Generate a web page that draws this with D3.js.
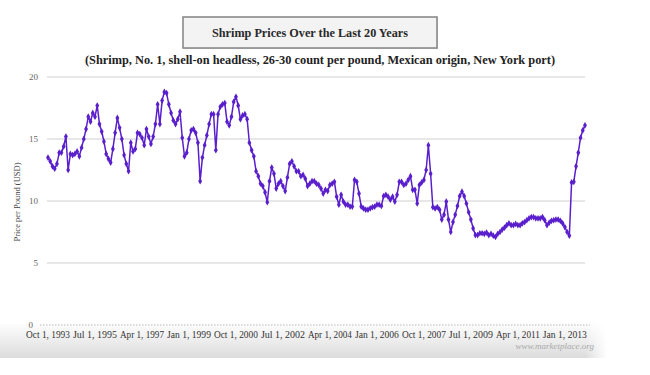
<!DOCTYPE html>
<html>
<head>
<meta charset="utf-8">
<script src="https://cdn.jsdelivr.net/npm/d3@7"></script>
<style>
  body { margin: 0; background: #fff; }
  svg { display: block; font-family: "Liberation Serif", "Times New Roman", serif; }
</style>
</head>
<body>
<div id="chart"></div>
<script>
// monthly prices, Oct 1993 .. Oct 2013 (USD per pound)
const prices = [
  13.5, 13.2, 12.8, 12.6, 13.0, 13.9, 13.9, 14.4, 15.2, 12.5,
  13.8, 13.7, 13.8, 14.0, 13.6, 14.3, 15.0, 15.8, 16.8, 16.4,
  17.1, 16.8, 17.7, 16.2, 15.6, 14.8, 13.8, 13.4, 13.1, 14.2,
  15.5, 16.7, 15.9, 15.0, 13.7, 13.0, 12.4, 14.7, 14.0, 14.2,
  15.5, 15.4, 15.1, 14.5, 15.8, 15.2, 14.6, 15.2, 16.2, 17.8,
  16.2, 18.1, 18.8, 18.7, 17.8, 17.1, 16.5, 16.2, 16.6, 17.2,
  15.1, 13.6, 13.9, 15.0, 15.7, 15.8, 15.5, 14.7, 11.6, 13.5,
  14.5, 15.3, 16.2, 17.0, 17.0, 14.1, 17.0, 17.6, 17.8, 17.9,
  16.4, 16.1, 16.8, 18.0, 18.4, 17.7, 16.6, 16.9, 17.0, 16.6,
  14.7, 14.1, 13.6, 12.4, 12.0, 11.4, 11.2, 10.7, 9.9, 11.6,
  12.7, 12.2, 11.0, 11.4, 11.6, 11.2, 10.8, 11.9, 13.0, 13.2,
  12.8, 12.4, 12.4, 12.0, 12.1, 11.8, 11.2, 11.4, 11.6, 11.6,
  11.4, 11.3, 11.0, 10.6, 10.9, 10.8, 11.3, 11.4, 11.55, 10.35,
  9.7, 10.5, 9.95, 9.7, 9.7, 9.55, 9.55, 11.7, 11.55, 10.6,
  9.55, 9.4, 9.3, 9.3, 9.4, 9.5, 9.55, 9.7, 9.7, 9.6,
  10.4, 10.5, 10.35, 10.1, 10.35, 9.95, 10.5, 11.55, 11.55, 11.3,
  11.4, 11.7, 12.0, 10.9, 10.9, 9.8, 11.3, 11.5, 11.7, 12.5,
  14.5, 12.2, 9.5, 9.4, 9.5, 9.3, 8.5, 8.9, 9.95, 8.5,
  7.5, 8.3, 8.9, 9.6, 10.4, 10.75, 10.4, 9.8, 9.1, 8.5,
  7.8, 7.25, 7.25, 7.4, 7.4, 7.35, 7.45, 7.25, 7.35, 7.2,
  7.1, 7.35, 7.5, 7.7, 7.85, 8.05, 8.2, 8.05, 8.05, 8.15,
  8.05, 8.05, 8.2, 8.3, 8.45, 8.6, 8.7, 8.7, 8.6, 8.6,
  8.6, 8.7, 8.45, 8.05, 8.25, 8.4, 8.45, 8.5, 8.5, 8.4,
  8.2, 7.9, 7.5, 7.2, 11.5, 11.55, 12.8, 13.9, 15.1, 15.7,
  16.1
];

// one label every 21 months
const tickIndex = [0, 21, 42, 63, 84, 105, 126, 147, 168, 189, 210, 231];
const tickLabels = ["Oct 1, 1993", "Jul 1, 1995", "Apr 1, 1997", "Jan 1, 1999",
  "Oct 1, 2000", "Jul 1, 2002", "Apr 1, 2004", "Jan 1, 2006", "Oct 1, 2007",
  "Jul 1, 2009", "Apr 1, 2011", "Jan 1, 2013"];
const yTicks = [0, 5, 10, 15, 20];

const title = "Shrimp Prices Over the Last 20 Years";
const subtitle = "(Shrimp, No. 1, shell-on headless, 26-30 count per pound, Mexican origin, New York port)";

const W = 650, H = 375;
const lineColor = "#5a1fcc";

let svg = d3.select("#chart").append("svg")
  .attr("width", W).attr("height", H);

let defs = svg.append("defs");
let grad = defs.append("linearGradient").attr("id", "band")
  .attr("x1", 0).attr("y1", 0).attr("x2", 0).attr("y2", 1);
grad.append("stop").attr("offset", "0%").attr("stop-color", "#ffffff");
grad.append("stop").attr("offset", "100%").attr("stop-color", "#dcdcdc");
let gradR = defs.append("linearGradient").attr("id", "bandR")
  .attr("x1", 0).attr("y1", 0).attr("x2", 1).attr("y2", 0);
gradR.append("stop").attr("offset", "0%").attr("stop-color", "#fff").attr("stop-opacity", 0);
gradR.append("stop").attr("offset", "100%").attr("stop-color", "#fff").attr("stop-opacity", 1);

// grey band under the axis
svg.append("rect").attr("x", 0).attr("y", 322).attr("width", 606).attr("height", 36)
  .attr("fill", "url(#band)");
svg.append("rect").attr("x", 585).attr("y", 322).attr("width", 22).attr("height", 36)
  .attr("fill", "url(#bandR)");

// title box
svg.append("rect").attr("x", 184).attr("y", 18).attr("width", 254).attr("height", 31)
  .attr("fill", "#d4d4d4");
svg.append("rect").attr("x", 183).attr("y", 17).attr("width", 254).attr("height", 31)
  .attr("fill", "#f3f3f3").attr("stroke", "#8a8a8a").attr("stroke-width", 1.6);
svg.append("text").attr("x", 310).attr("y", 37)
  .attr("text-anchor", "middle").attr("font-weight", "bold").attr("font-size", 13)
  .attr("textLength", 196).attr("lengthAdjust", "spacingAndGlyphs")
  .attr("fill", "#2a2a2a").text(title);

svg.append("text").attr("x", 320).attr("y", 64)
  .attr("text-anchor", "middle").attr("font-weight", "bold").attr("font-size", 11.8)
  .attr("textLength", 470).attr("lengthAdjust", "spacingAndGlyphs")
  .attr("fill", "#222").text(subtitle);

let x = d3.scaleLinear().domain([0, prices.length - 1]).range([48, 585]);
let y = d3.scaleLinear().domain([0, 20]).range([325, 77]);

// grid
svg.append("g").selectAll("line").data(yTicks.filter(d => d > 0)).join("line")
  .attr("x1", 47).attr("x2", 585)
  .attr("y1", d => y(d)).attr("y2", d => y(d))
  .attr("stroke", "#cfcfcf").attr("stroke-width", 1.2);
svg.append("line").attr("x1", 40).attr("x2", 590).attr("y1", y(0)).attr("y2", y(0))
  .attr("stroke", "#aaa").attr("stroke-width", 0.8).attr("stroke-dasharray", "1.5,1.5");

svg.append("g").selectAll("text").data(yTicks).join("text")
  .attr("x", d => d === 0 ? 33 : 38).attr("y", d => y(d) + 3)
  .attr("text-anchor", "end").attr("font-size", 9).attr("fill", "#666")
  .text(d => d);

svg.append("text").attr("transform", "translate(20,202) rotate(-90)")
  .attr("text-anchor", "middle").attr("font-size", 8.5).attr("fill", "#444")
  .text("Price per Pound (USD)");

svg.append("g").selectAll("text").data(tickIndex).join("text")
  .attr("x", d => x(d)).attr("y", 338)
  .attr("text-anchor", "middle").attr("font-size", 9.3).attr("fill", "#333")
  .attr("textLength", 44).attr("lengthAdjust", "spacingAndGlyphs")
  .text((d, i) => tickLabels[i]);

svg.append("text").attr("x", 594).attr("y", 349)
  .attr("text-anchor", "end").attr("font-size", 9).attr("font-style", "italic")
  .attr("fill", "#aaa").text("www.marketplace.org");

// series
let line = d3.line().x((d, i) => x(i)).y(d => y(d));
svg.append("path").datum(prices)
  .attr("d", line).attr("fill", "none")
  .attr("stroke", lineColor).attr("stroke-width", 1.5);

svg.append("g").selectAll("path").data(prices).join("path")
  .attr("transform", (d, i) => `translate(${x(i)},${y(d)})`)
  .attr("d", d3.symbol().type(d3.symbolDiamond).size(13))
  .attr("fill", lineColor);
</script>
</body>
</html>
